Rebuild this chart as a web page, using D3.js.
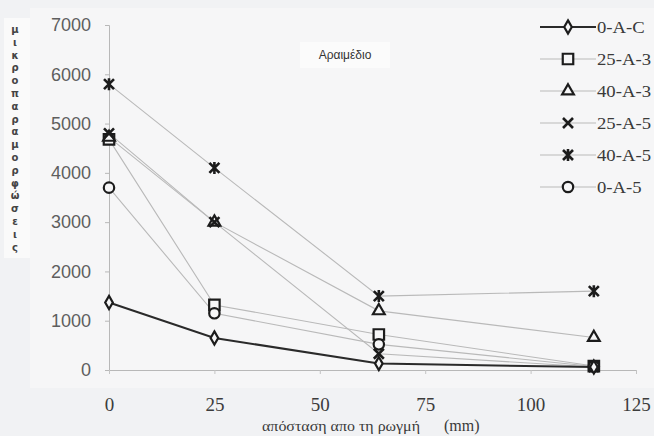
<!DOCTYPE html>
<html>
<head>
<meta charset="utf-8">
<script src="https://cdn.jsdelivr.net/npm/d3@7"></script>
<style>
  html, body { margin: 0; padding: 0; background: #f1f2f4; }
  svg { display: block; }
</style>
</head>
<body>
<svg id="chart" width="654" height="436"></svg>
<script>
// Distance from the crack (mm)
const distances = [0, 25, 64, 115];

// Micro-strain readings per specimen
const seriesNames = ["0-A-C", "25-A-3", "40-A-3", "25-A-5", "40-A-5", "0-A-5"];
const s0AC  = [1370, 650, 130, 60];
const s25A3 = [4680, 1320, 720, 80];
const s40A3 = [4720, 3000, 1200, 660];
const s25A5 = [4800, 3000, 330, 60];
const s40A5 = [5800, 4100, 1500, 1600];
const s0A5  = [3700, 1150, 520, 70];

const xTicks = [0, 25, 50, 75, 100, 125];
const yTicks = [0, 1000, 2000, 3000, 4000, 5000, 6000, 7000];

const titleText = "Αραιμέδιο";
const xTitle = "απόσταση απο τη ρωγμή";
const xUnit = "(mm)";
const yTitle = "μικροπαραμορφώσεις";

const seriesValues = [s0AC, s25A3, s40A3, s25A5, s40A5, s0A5];
const markerKinds = ["diamond", "square", "triangle", "cross", "star", "circle"];

const svg = d3.select("#chart");

const x = d3.scaleLinear().domain([0, 125]).range([109, 636]);
const y = d3.scaleLinear().domain([0, 7000]).range([370, 25]);

// light plot panel
svg.append("rect").attr("x", 30).attr("y", 8).attr("width", 624).attr("height", 380)
  .attr("fill", "#f6f6f7");

// axes
const yAxis = d3.axisLeft(y).tickValues(yTicks).tickSize(4).tickPadding(14)
  .tickFormat(d3.format("d"));
const gy = svg.append("g").attr("transform", `translate(${x(0)},0)`).call(yAxis);
gy.select(".domain").attr("stroke", "#b8b8b8").attr("stroke-width", 1);
gy.selectAll(".tick line").attr("stroke", "#b8b8b8");
gy.selectAll(".tick text").attr("font-family", "'Liberation Sans', Arial, sans-serif")
  .attr("font-size", 18).attr("fill", "#5e5e5e");

const xAxis = d3.axisBottom(x).tickValues(xTicks).tickSize(4).tickPadding(24)
  .tickFormat(d3.format("d"));
const gx = svg.append("g").attr("transform", `translate(0,${y(0)})`).call(xAxis);
gx.select(".domain").attr("stroke", "#b8b8b8").attr("stroke-width", 1);
gx.selectAll(".tick line").attr("stroke", "#c4c4c4");
gx.selectAll(".tick text").attr("font-family", "'Liberation Serif', 'Times New Roman', serif")
  .attr("font-size", 19).attr("fill", "#3c3c3c");

// marker shapes
function markerPath(kind) {
  switch (kind) {
    case "diamond": return d3.symbol(d3.symbolDiamond, 50)();
    case "square": return d3.symbol(d3.symbolSquare, 110)();
    case "triangle": return d3.symbol(d3.symbolTriangle, 60)();
    case "circle": return d3.symbol(d3.symbolCircle, 85)();
    case "cross": return "M-5,-5L5,5M-5,5L5,-5";
    case "star": return "M-5,-5L5,5M-5,5L5,-5M0,-6L0,6";
  }
}

function drawMarker(g, kind, cx, cy) {
  return g.append("path")
    .attr("d", markerPath(kind))
    .attr("transform", `translate(${cx},${cy})`)
    .attr("stroke", "#1c1c1c")
    .attr("stroke-width", kind === "cross" || kind === "star" ? 2.6 : 2.2)
    .attr("fill", kind === "cross" || kind === "star" ? "none" : "#f6f6f7");
}

const line = d3.line().x(d => x(d[0])).y(d => y(d[1]));

// light series lines first, the control series on top
const order = [1, 2, 3, 4, 5, 0];
const plot = svg.append("g");
order.forEach(i => {
  const pts = distances.map((d, j) => [d, seriesValues[i][j]]);
  plot.append("path").datum(pts).attr("d", line)
    .attr("fill", "none")
    .attr("stroke", i === 0 ? "#2a2a2a" : "#b9b9b9")
    .attr("stroke-width", i === 0 ? 2 : 1.1);
});
order.forEach(i => {
  distances.forEach((d, j) => drawMarker(plot, markerKinds[i], x(d), y(seriesValues[i][j])));
});

// legend
const legend = svg.append("g");
seriesNames.forEach((name, i) => {
  const ly = 27 + i * 32;
  legend.append("line").attr("x1", 540).attr("x2", 596).attr("y1", ly).attr("y2", ly)
    .attr("stroke", i === 0 ? "#2a2a2a" : "#b9b9b9").attr("stroke-width", i === 0 ? 2 : 1.1);
  drawMarker(legend, markerKinds[i], 568, ly);
  legend.append("text")
    .attr("transform", `translate(597,${ly + 6}) scale(1.1,1)`)
    .attr("font-family", "'Liberation Serif', 'Times New Roman', serif")
    .attr("font-size", 17).attr("fill", "#3a3a3a")
    .text(name);
});

// inner title with white box
svg.append("rect").attr("x", 300).attr("y", 42).attr("width", 90).attr("height", 26)
  .attr("fill", "#fbfbfb");
svg.append("text").attr("x", 345).attr("y", 59).attr("text-anchor", "middle")
  .attr("font-family", "'Liberation Sans', Arial, sans-serif").attr("font-size", 12)
  .attr("fill", "#333").text(titleText);

// x title
svg.append("text").attr("x", 262).attr("y", 431)
  .attr("font-family", "'Liberation Serif', 'Times New Roman', serif").attr("font-size", 15)
  .attr("fill", "#3a3a3a").attr("textLength", 158).attr("lengthAdjust", "spacingAndGlyphs")
  .text(xTitle);
svg.append("text").attr("x", 444).attr("y", 431)
  .attr("font-family", "'Liberation Serif', 'Times New Roman', serif").attr("font-size", 16)
  .attr("fill", "#3a3a3a").text(xUnit);

// y title, letters stacked vertically
svg.append("rect").attr("x", 4).attr("y", 18).attr("width", 26).attr("height", 240).attr("fill", "#fafafa");
const letters = Array.from(yTitle);
svg.append("g").selectAll("text").data(letters).join("text")
  .attr("x", 15)
  .attr("y", (d, i) => 33 + i * 12.8)
  .attr("text-anchor", "middle")
  .attr("font-family", "'DejaVu Sans', sans-serif").attr("font-size", 10).attr("font-weight", "bold")
  .attr("fill", "#444")
  .text(d => d);
</script>
</body>
</html>
